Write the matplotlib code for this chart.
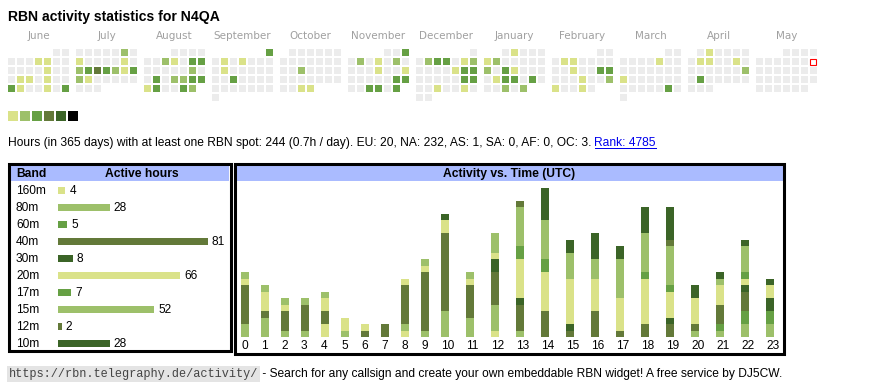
import datetime
import numpy as np
import matplotlib
matplotlib.use('Agg')
import matplotlib.pyplot as plt
import matplotlib.transforms as mtransforms
from matplotlib.patches import Rectangle

W, H = 870, 390

# colour steps of the widget (level 1..6), grey = no spot that day
level_colors = ['#dae289', '#9dc06a', '#66a044', '#637939', '#3b6427', '#000000']
grey = '#ececec'
head_blue = '#aabbff'

## Calendar: activity level per day (0 = none)
months = [(2024, 6, 'June'), (2024, 7, 'July'), (2024, 8, 'August'),
          (2024, 9, 'September'), (2024, 10, 'October'), (2024, 11, 'November'),
          (2024, 12, 'December'), (2025, 1, 'January'), (2025, 2, 'February'),
          (2025, 3, 'March'), (2025, 4, 'April'), (2025, 5, 'May')]
cal_jun = [0,0, 0,0,0,1,1,0,0, 0,0,0,0,1,0,0, 0,1,1,0,1,0,0, 3,1,0,0,1,0,3]
cal_jul = [0,0,0,0,0,2,0, 1,0,0,0,0,1,0, 2,3,4,3,2,1,3, 2,1,0,0,0,0,0, 0,0,0]
cal_aug = [0,0,0,0, 0,0,2,1,0,3,3, 0,0,0,0,0,2,0, 0,3,0,2,2,3,3, 1,3,0,0,3,2]
cal_sep = [3, 0,1,0,1,0,0,0, 0,1,0,0,0,0,0, 0,0,3,0,0,0,0, 0,0,0,0,0,0,0, 0]
cal_oct = [0,0,0,0,0,0, 0,0,0,0,0,0,0, 0,0,2,0,0,0,0, 0,0,0,0,0,0,0, 0,0,1,1]
cal_nov = [0,0,3, 0,2,0,1,0,2,0, 0,0,0,1,0,0,1, 0,0,0,0,0,3,3, 0,0,3,3,0,3]
cal_dec = [0, 0,2,3,3,0,1,2, 0,0,0,0,1,3,3, 0,0,0,0,0,3,3, 0,0,1,0,0,1,0, 0,0]
cal_jan = [0,1,0,0,0, 1,2,0,0,0,0,0, 2,0,3,1,0,0,0, 0,1,3,3,0,3,0, 0,0,2,0,2]
cal_feb = [0,0, 0,1,1,0,0,0,0, 0,0,1,0,0,3,3, 0,0,0,1,0,0,2, 1,0,0,1,0]
cal_mar = [0,0, 0,0,0,0,1,0,0, 0,0,0,0,0,0,0, 1,0,0,0,0,0,0, 0,0,0,0,0,3,0, 0]
cal_apr = [0,1,0,0,0,0, 0,1,1,0,0,1,0, 0,0,0,0,0,0,2, 0,3,0,0,0,0,0, 0,0,0]
cal_may = [0] * 31
calendar = [cal_jun, cal_jul, cal_aug, cal_sep, cal_oct, cal_nov,
            cal_dec, cal_jan, cal_feb, cal_mar, cal_apr, cal_may]
today = datetime.date(2025, 5, 11)

## Bands
bands = ['160m', '80m', '60m', '40m', '30m', '20m', '17m', '15m', '12m', '10m']
band_hours = [4, 28, 5, 81, 8, 66, 7, 52, 2, 28]
band_colors = [level_colors[i] for i in [0, 1, 2, 3, 4, 0, 2, 1, 3, 4]]

## Activity per UTC hour, per band (stacked bottom 160m -> top 10m)
hours = list(range(24))
act_160 = [0,0,0,0,2,0,0,0,1,0,0,0,1,0,0,0,0,0,0,0,0,0,0,0]
act_80  = [2,3,1,1,0,1,0,0,1,1,4,3,4,1,0,0,0,0,0,0,1,1,2,2]
act_60  = [0,0,0,0,0,0,0,0,0,0,0,0,0,0,0,0,0,0,0,0,0,1,2,2]
act_40  = [6,1,3,4,2,0,1,2,6,9,12,5,5,4,4,1,4,1,2,2,1,3,3,0]
act_30  = [0,0,0,0,0,0,0,0,0,0,0,0,2,1,0,1,0,0,0,1,0,0,1,2]
act_20  = [1,3,1,0,2,2,1,0,1,1,2,1,1,6,6,7,5,5,7,4,4,3,1,2]
act_17  = [0,0,0,0,0,0,0,0,0,0,0,0,0,2,2,0,0,0,1,1,0,0,1,0]
act_15  = [1,1,1,1,1,0,0,0,0,1,0,1,3,6,6,4,3,6,6,6,0,1,4,0]
act_12  = [0,0,0,0,0,0,0,0,0,0,0,0,0,1,0,0,0,0,0,1,0,0,0,0]
act_10  = [0,0,0,0,0,0,0,0,0,0,1,0,0,0,5,2,4,2,4,5,2,1,1,1]
activity = [act_160, act_80, act_60, act_40, act_30, act_20, act_17, act_15, act_12, act_10]

stats_text = ('Hours (in 365 days) with at least one RBN spot: 244 (0.7h / day). '
              'EU: 20, NA: 232, AS: 1, SA: 0, AF: 0, OC: 3.')
rank_text = 'Rank: 4785'
footer_url = 'https://rbn.telegraphy.de/activity/'
footer_text = ' - Search for any callsign and create your own embeddable RBN widget! A free service by DJ5CW.'

SANS = 'Liberation Sans'


def px_axes(fig, x0, y0, x1, y1):
    ax = fig.add_axes([x0 / W, 1 - y1 / H, (x1 - x0) / W, (y1 - y0) / H])
    ax.set_axis_off()
    return ax


fig = plt.figure(figsize=(W / 100, H / 100), dpi=100, facecolor='white')
page = px_axes(fig, 0, 0, W, H)
page.set_xlim(0, W)
page.set_ylim(H, 0)

page.text(8, 21, 'RBN activity statistics for N4QA', family=SANS, fontsize=10.1,
          fontweight='bold', va='baseline')

## calendar grid: 7 weekday columns x week rows per month
ax_cal = px_axes(fig, 8, 49, 818, 103)
ax_cal.set_xlim(0, 810)
ax_cal.set_ylim(54, 0)
for m, ((yy, mm, name), days) in enumerate(zip(months, calendar)):
    first = datetime.date(yy, mm, 1).weekday()
    for d, lev in enumerate(days):
        idx = first + d
        r, c = idx // 7, idx % 7
        x, y = 68 * m + 9 * c, 9 * r
        if datetime.date(yy, mm, d + 1) == today:
            ax_cal.add_patch(Rectangle((x + 0.5, y + 0.5), 6, 6, facecolor='white',
                                       edgecolor='red', lw=0.8))
        else:
            col = grey if lev == 0 else level_colors[lev - 1]
            ax_cal.add_patch(Rectangle((x, y), 7, 7, facecolor=col, lw=0))
    ax_cal.text(68 * m + 30.5, -10, name, ha='center', va='baseline', color='#a0a0a0',
                family='DejaVu Sans', fontsize=7.5, clip_on=False)

# colour legend
for i, col in enumerate(level_colors):
    page.add_patch(Rectangle((8 + 12 * i, 111), 10, 10, facecolor=col, lw=0))

## stats line with the rank link
fig.canvas.draw()
rend = fig.canvas.get_renderer()
t1 = page.text(8, 146, stats_text, family=SANS, fontsize=8.65, va='baseline')
bb = t1.get_window_extent(renderer=rend)
x_link = page.transData.inverted().transform((bb.x1, bb.y0))[0] + 3
t2 = page.text(x_link, 146, rank_text, family=SANS, fontsize=8.65, va='baseline', color='#0000ee')
bb2 = t2.get_window_extent(renderer=rend)
x_link_end = page.transData.inverted().transform((bb2.x1, bb2.y0))[0]
page.plot([x_link, x_link_end], [147.5, 147.5], color='#0000ee', lw=0.72)

## boxes and header bars
page.add_patch(Rectangle((11, 165.5), 218.5, 15.5, facecolor=head_blue, lw=0))
page.add_patch(Rectangle((236.5, 165.5), 546.5, 15, facecolor=head_blue, lw=0))
page.add_patch(Rectangle((9.5, 164), 221.5, 187, facecolor='none', edgecolor='black', lw=2.2))
page.add_patch(Rectangle((235, 164), 549.5, 189.5, facecolor='none', edgecolor='black', lw=2.2))
page.text(16, 177, 'Band', family=SANS, fontsize=8.7, fontweight='bold', va='baseline')
page.text(142, 177, 'Active hours', family=SANS, fontsize=8.7, fontweight='bold',
          va='baseline', ha='center')
page.text(509.5, 177, 'Activity vs. Time (UTC)', family=SANS, fontsize=8.7,
          fontweight='bold', va='baseline', ha='center')

## band bars
ax_band = px_axes(fig, 58, 181.5, 208, 351.5)
ax_band.set_xlim(0, 81)
ax_band.set_ylim(len(bands) - 0.5, -0.5)
ax_band.barh(range(len(bands)), band_hours, height=7 / 17, color=band_colors, lw=0)
lab_tr = mtransforms.blended_transform_factory(page.transData, ax_band.transData)
down = mtransforms.ScaledTranslation(0, -4 / 100, fig.dpi_scale_trans)
right = mtransforms.ScaledTranslation(4 / 100, -4 / 100, fig.dpi_scale_trans)
for i, (b, v) in enumerate(zip(bands, band_hours)):
    page.text(16, i, b, transform=lab_tr + down, family=SANS, fontsize=8.6, va='baseline')
    ax_band.text(v, i, str(v), transform=ax_band.transData + right, family=SANS,
                 fontsize=8.6, va='baseline', clip_on=False)

## activity vs time
unit = 6.48
ax_act = px_axes(fig, 236, 181, 783, 337)
ax_act.set_xlim(0, 547)
ax_act.set_ylim(0, 156 / unit)
col_w = [20 if h < 10 else 25 for h in hours]
lefts = 5 + np.concatenate([[0], np.cumsum(col_w)[:-1]])
bottom = np.zeros(len(hours))
for vals, col in zip(activity, band_colors):
    vals = np.array(vals)
    ax_act.bar(lefts, vals, width=8, bottom=bottom, align='edge', color=col, lw=0)
    bottom += vals
below = mtransforms.ScaledTranslation(0, -12 / 100, fig.dpi_scale_trans)
for h, x in zip(hours, lefts):
    ax_act.text(x, 0, str(h), transform=ax_act.transData + below, family=SANS,
                fontsize=8.6, va='baseline', clip_on=False)

## footer
f1 = page.text(9, 377, footer_url, family='Liberation Mono', fontsize=8.6, va='baseline',
               color='#444444', bbox=dict(facecolor='#e4e4e4', edgecolor='none', pad=1.2))
bb3 = f1.get_window_extent(renderer=rend)
x_f = page.transData.inverted().transform((bb3.x1, bb3.y0))[0] + 1
page.text(x_f, 377, footer_text, family=SANS, fontsize=8.65, va='baseline')

fig.savefig('out.png', dpi=100, facecolor='white')
